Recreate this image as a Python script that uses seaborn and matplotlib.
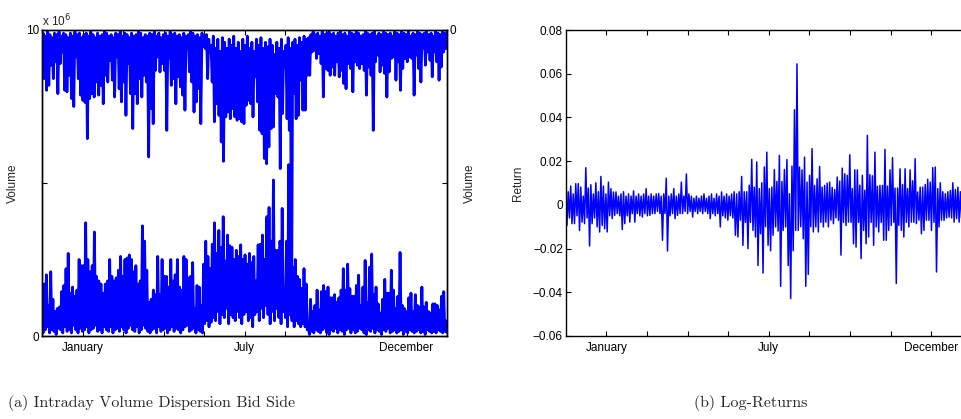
import numpy as np
import matplotlib
matplotlib.use("Agg")
import matplotlib.pyplot as plt
import seaborn as sns

sns.set_style("ticks")
plt.rcParams["font.family"] = ["Liberation Sans", "DejaVu Sans"]
plt.rcParams["axes.unicode_minus"] = True

# ---------------- data ----------------
month_labels = ["January", "", "", "", "July", "", "", "", "December"]
vol_ticklabels_left = ["0", "", "10"]
vol_ticklabels_right = ["0", "", ""]
ret_ticks = [-0.06, -0.04, -0.02, 0.0, 0.02, 0.04, 0.06, 0.08]
ret_ticklabels = ["\u22120.06", "\u22120.04", "\u22120.02", "0", "0.02", "0.04", "0.06", "0.08"]

# bid-side volume dispersion, bottom series (x 1e6): local highs and lows
bid_peaks = [
    0.5, 1.7, 2.0, 1.0, 2.1, 1.2, 0.8, 0.9, 0.95, 1.45,
    1.65, 2.2, 2.7, 1.4, 1.6, 1.3, 1.5, 2.5, 2.3, 2.3,
    3.7, 2.5, 2.1, 2.3, 3.4, 1.95, 1.8, 1.7, 1.4, 1.7,
    1.8, 2.5, 1.95, 1.8, 1.9, 2.15, 2.6, 1.95, 2.5, 2.55,
    2.65, 2.5, 2.1, 2.3, 1.7, 1.8, 3.6, 3.1, 2.15, 1.1,
    1.2, 1.5, 1.35, 2.6, 1.35, 2.5, 1.95, 1.95, 1.6, 2.5,
    1.8, 2.0, 2.5, 1.6, 1.5, 2.6, 2.5, 1.9, 1.95, 2.4,
    0.9, 1.65, 1.6, 1.0, 2.35, 3.1, 2.6, 2.2, 3.0, 3.7,
    2.7, 3.45, 2.9, 3.9, 2.45, 3.3, 2.95, 2.9, 2.5, 2.8,
    2.6, 2.98, 2.5, 2.65, 2.35, 2.7, 2.4, 2.6, 1.8, 2.98,
    3.0, 3.3, 2.5, 3.9, 4.2, 3.1, 5.1, 2.8, 2.8, 3.1,
    4.17, 1.55, 3.1, 5.6, 3.0, 2.25, 2.5, 1.95, 1.85, 1.55,
    2.2, 1.7, 0.3, 1.2, 0.8, 1.0, 1.5, 0.85, 1.45, 1.65,
    1.45, 1.6, 1.25, 1.25, 1.35, 1.1, 1.25, 1.5, 2.2, 1.5,
    2.35, 1.55, 1.3, 1.3, 1.65, 1.99, 1.0, 1.6, 2.47, 1.1,
    2.25, 2.68, 1.35, 1.6, 1.05, 0.75, 1.2, 1.85, 1.4, 1.4,
    2.15, 1.5, 0.9, 1.3, 2.73, 1.0, 0.9, 0.8, 1.25, 1.4,
    0.8, 1.35, 1.0, 0.95, 1.6, 0.95, 1.1, 0.8, 0.75, 1.05,
    1.05, 1.0, 0.85, 1.3, 1.45, 0.5,
]
bid_troughs = [
    0.1, 0.2, 0.3, 0.1, 0.2, 0.15, 0.05, 0.25, 0.2, 0.1,
    0.3, 0.15, 0.2, 0.1, 0.35, 0.2, 0.1, 0.25, 0.15, 0.2,
    0.3, 0.1, 0.2, 0.25, 0.35, 0.15, 0.2, 0.1, 0.3, 0.2,
    0.15, 0.3, 0.1, 0.2, 0.25, 0.15, 0.3, 0.2, 0.1, 0.25,
    0.35, 0.2, 0.15, 0.3, 0.1, 0.2, 0.35, 0.25, 0.15, 0.1,
    0.2, 0.25, 0.1, 0.3, 0.15, 0.2, 0.25, 0.1, 0.2, 0.3,
    0.15, 0.25, 0.2, 0.1, 0.2, 0.3, 0.35, 0.15, 0.2, 0.25,
    0.1, 0.2, 0.15, 0.1, 0.4, 0.5, 0.3, 0.45, 0.6,
    0.5, 0.8, 0.4, 0.7, 0.6, 0.9, 0.4, 0.7, 0.6, 0.5,
    0.8, 0.6, 0.4, 0.7, 0.8, 0.5, 0.6, 0.3, 0.7, 0.8,
    0.5, 0.9, 0.6, 1.0, 0.7, 0.4, 0.8, 0.5, 0.9, 0.6,
    0.4, 0.8, 0.6, 0.3, 0.7, 0.5, 0.3, 0.5, 0.4, 0.3,
    0.4, 0.3, 0.2,
    0.05, 0.15, 0.1, 0.2, 0.15, 0.1, 0.2, 0.25, 0.1, 0.05,
    0.2, 0.15, 0.25, 0.1, 0.2, 0.15, 0.05, 0.2, 0.25, 0.1,
    0.2, 0.1, 0.15, 0.25, 0.2, 0.1, 0.05, 0.2, 0.15, 0.25,
    0.1, 0.2, 0.15, 0.05, 0.2, 0.15, 0.25, 0.1, 0.15, 0.2,
    0.1, 0.15, 0.2, 0.05, 0.15, 0.1, 0.2, 0.15, 0.1, 0.15,
    0.2, 0.1, 0.15, 0.05, 0.2, 0.15, 0.1, 0.15, 0.1, 0.2,
    0.15, 0.1, 0.15, 0.1,
]

# second series on the inverted right axis (x 1e6, measured down from the top)
top_peaks = [
    0.93, 1.59, 1.97, 1.81, 1.15, 1.59, 1.04, 2.08, 1.1, 0.72,
    1.97, 2.02, 1.48, 2.24, 2.5, 0.88, 1.59, 2.13,
    2.3, 2.37, 3.55, 2.24, 2.08, 2.19, 1.7, 2.13, 1.81,
    2.41, 1.48, 1.7, 0.99, 1.64, 2.19, 0.88, 1.92, 2.35, 1.7,
    2.79, 1.1, 2.08, 3.22, 2.08, 2.41, 1.59, 2.19, 1.48, 1.7,
    4.15, 2.57, 3.06, 1.32, 0.88, 1.37, 1.1, 1.32, 3.28, 0.93,
    1.81, 1.59, 2.41, 1.53, 1.86, 2.13, 2.62, 0.61, 1.37, 1.7,
    2.68, 2.35, 1.92, 3.06, 0.55, 0.61, 1.59, 0.72, 1.7, 3.0,
    2.41, 2.79, 3.66, 4.29, 2.84, 2.68, 2.9, 2.57, 2.84, 2.95,
    2.9, 3.0, 3.06, 2.46,
    2.3, 2.41, 2.84, 1.53, 2.35, 3.28, 3.39, 4.2, 4.37, 3.82,
    3.22, 3.17, 2.08, 2.19, 4.53, 2.73, 1.21, 2.9, 3.28, 9.4,
    2.08, 2.9, 2.79, 1.64, 2.62, 2.62, 1.48, 1.48, 0.72, 0.66,
    0.93, 0.77, 1.1, 2.19, 1.26, 1.32, 1.48, 1.21, 1.48, 1.04,
    1.53, 1.32, 1.75, 1.92, 1.1, 1.26, 2.02, 1.04, 1.15, 1.26,
    1.1, 1.32, 2.13, 1.21, 1.48, 3.28, 1.04, 0.82, 1.37, 1.15,
    1.42, 2.19, 1.37, 0.93, 0.88, 1.64, 1.04, 1.97, 1.26, 0.93,
    1.04, 0.88, 0.93, 2.13, 0.82, 1.26, 1.7, 0.61, 1.15, 0.72,
    0.99, 1.53, 0.72, 1.04, 1.64, 1.21, 0.72, 0.61,
]
top_troughs = [
    0.1, 0.2, 0.05, 0.15, 0.25, 0.1, 0.15, 0.05, 0.2, 0.1,
    0.15, 0.25, 0.1, 0.2, 0.05, 0.15, 0.1, 0.25, 0.15, 0.1,
    0.2, 0.05, 0.15, 0.25, 0.1, 0.2, 0.15, 0.05, 0.1, 0.2,
    0.15, 0.25, 0.1, 0.15, 0.05, 0.2, 0.1, 0.15, 0.25, 0.1,
    0.2, 0.15, 0.05, 0.1, 0.25, 0.15, 0.2, 0.1, 0.15, 0.05,
    0.2, 0.1, 0.25, 0.15, 0.1, 0.2, 0.05, 0.15, 0.1, 0.2,
    0.15, 0.25, 0.1, 0.2, 0.15, 0.05, 0.1, 0.2, 0.15, 0.25,
    0.1, 0.2, 0.15,
    0.3, 0.5, 0.2, 0.6, 0.3, 0.7, 0.25, 0.4, 0.6, 0.3,
    0.5, 0.2, 0.6, 0.4, 0.7, 0.3, 0.5, 0.2, 0.6, 0.4,
    0.7, 0.3, 0.5, 0.25, 0.6, 0.4, 0.55, 0.3, 0.5, 0.8,
    0.4, 0.6, 0.3, 0.7, 0.5, 0.25, 0.6, 0.4, 0.3, 0.5,
    0.25, 0.4, 0.2, 0.3, 0.25, 0.15,
    0.05, 0.15, 0.1, 0.2, 0.05, 0.15, 0.1, 0.05, 0.15, 0.1,
    0.2, 0.1, 0.05, 0.15, 0.1, 0.2, 0.05, 0.1, 0.15, 0.05,
    0.1, 0.2, 0.15, 0.05, 0.1, 0.15, 0.1, 0.05, 0.2, 0.1,
    0.15, 0.05, 0.1, 0.15, 0.1, 0.2, 0.05, 0.1, 0.15, 0.05,
    0.1, 0.15, 0.05, 0.2, 0.1, 0.15, 0.05, 0.1, 0.15, 0.1,
    0.05, 0.15, 0.1, 0.2, 0.05, 0.1, 0.15, 0.05, 0.1, 0.05,
]

# log-returns: upward and downward excursions
ret_up = [
    0.005, 0.006, 0.0086, 0.005, 0.0097, 0.0097, 0.0081, 0.004, 0.017, 0.0077,
    0.0092, 0.005, 0.0101, 0.006, 0.013, 0.0086, 0.005, 0.0104, 0.0074, 0.0059,
    0.0059, 0.004, 0.005, 0.006, 0.004, 0.005, 0.004, 0.0064, 0.004, 0.005,
    0.004, 0.005, 0.0074, 0.004, 0.005, 0.004, 0.005, 0.0052, 0.004, 0.005,
    0.0122, 0.004, 0.005, 0.0074, 0.004, 0.005, 0.0104, 0.004, 0.0141, 0.005,
    0.004, 0.003, 0.004, 0.003, 0.004, 0.005, 0.003, 0.004, 0.005, 0.003,
    0.005, 0.004, 0.0059, 0.004, 0.005, 0.004, 0.005, 0.006, 0.005, 0.006,
    0.013, 0.006, 0.006, 0.009, 0.0208, 0.0081, 0.0196, 0.0074, 0.0101, 0.0173,
    0.0241, 0.0074, 0.0081, 0.0162, 0.0107, 0.0226, 0.0107, 0.0162, 0.0207, 0.0051,
    0.0177, 0.0435, 0.0645, 0.0173, 0.016, 0.0218, 0.0104, 0.0135, 0.0257, 0.0089,
    0.0119, 0.0176, 0.0081, 0.0089, 0.0099, 0.0104, 0.008, 0.007, 0.0127, 0.0109,
    0.0168, 0.0142, 0.0135, 0.0229, 0.0074, 0.016, 0.016, 0.009, 0.0135, 0.0067,
    0.0318, 0.0138, 0.0133, 0.0241, 0.0085, 0.0089, 0.0089, 0.0254, 0.0086, 0.016,
    0.0216, 0.0077, 0.0077, 0.0165, 0.0093, 0.0165, 0.0074, 0.016, 0.011, 0.0211,
    0.0059, 0.0081, 0.0081, 0.0093, 0.0117, 0.0104, 0.017, 0.0173, 0.0074, 0.0101,
    0.006, 0.0051, 0.006, 0.0066, 0.0101, 0.007, 0.0081, 0.006, 0.0097, 0.006,
    0.007, 0.005,
]
ret_down = [
    -0.0094, -0.006, -0.0086, -0.0086, -0.005, -0.0117, -0.0079, -0.0086, -0.006, -0.0188,
    -0.0086, -0.006, -0.0101, -0.0124, -0.0094, -0.0109, -0.0124, -0.005, -0.0063, -0.0048,
    -0.004, -0.005, -0.0113, -0.0086, -0.005, -0.0079, -0.004, -0.0079, -0.004, -0.005,
    -0.0056, -0.004, -0.005, -0.0048, -0.004, -0.004, -0.003, -0.004, -0.0162, -0.004,
    -0.0211, -0.005, -0.004, -0.0063, -0.0048, -0.004, -0.004, -0.003, -0.004, -0.003,
    -0.0056, -0.003, -0.004, -0.003, -0.004, -0.003, -0.004, -0.0063, -0.004, -0.005,
    -0.004, -0.0101, -0.005, -0.006, -0.007, -0.005, -0.006, -0.0139, -0.0147, -0.007,
    -0.0185, -0.008, -0.02, -0.008, -0.0117, -0.0147, -0.0277, -0.0132, -0.0312, -0.010,
    -0.0185, -0.021, -0.0139, -0.0101, -0.012, -0.0373, -0.0117, -0.0101, -0.0277, -0.0429,
    -0.021, -0.0117, -0.0117, -0.010, -0.0155, -0.0373, -0.0318, -0.010, -0.0124, -0.0101,
    -0.0124, -0.008, -0.0101, -0.0079, -0.0101, -0.007, -0.0086, -0.006, -0.0071, -0.023,
    -0.008, -0.0094, -0.0079, -0.008, -0.0178, -0.0193, -0.008, -0.0246, -0.0117, -0.0178,
    -0.0147, -0.008, -0.0185, -0.0101, -0.0124, -0.008, -0.0162, -0.0162, -0.0117, -0.0094,
    -0.008, -0.036, -0.0094, -0.0117, -0.0147, -0.008, -0.0101, -0.0079, -0.008, -0.0086,
    -0.007, -0.0132, -0.0117, -0.007, -0.0071, -0.0117, -0.008, -0.0307, -0.0101, -0.007,
    -0.0071, -0.006, -0.0056, -0.006, -0.0079, -0.0063, -0.0079, -0.006, -0.0086, -0.006,
    -0.007, -0.006,
]


def interleave(a, b):
    n = min(len(a), len(b))
    out = np.empty(2 * n)
    out[0::2] = np.asarray(a[:n], dtype=float)
    out[1::2] = np.asarray(b[:n], dtype=float)
    return out


bid_series = interleave(bid_peaks, bid_troughs)
top_series = interleave(top_peaks, top_troughs)
ret_series = interleave(ret_up, ret_down)

# ---------------- figure ----------------
W, H = 961, 419
fig = plt.figure(figsize=(W / 100, H / 100), dpi=100)
ax1 = fig.add_axes([42 / W, (H - 336) / H, 405 / W, 306 / H])
ax2 = ax1.twinx()
ax3 = fig.add_axes([565.7 / W, (H - 336) / H, 406 / W, 306 / H])

blue = "#0000ff"

sns.lineplot(x=np.linspace(0, 10, len(bid_series)), y=bid_series, ax=ax1,
             color=blue, linewidth=2.0, estimator=None, sort=False)
sns.lineplot(x=np.linspace(0, 10, len(top_series)), y=top_series, ax=ax2,
             color=blue, linewidth=2.0, estimator=None, sort=False)
sns.lineplot(x=np.linspace(0, 10, len(ret_series)), y=ret_series, ax=ax3,
             color=blue, linewidth=1.1, estimator=None, sort=False)

tick_fs = 8.5
xt = np.arange(1, 10)

# left panel
ax1.set_xlim(0, 10)
ax1.set_ylim(0, 10)
ax1.set_xticks(xt)
ax1.set_xticklabels(month_labels)
ax1.set_yticks([0, 5, 10])
ax1.set_yticklabels(vol_ticklabels_left)
ax1.tick_params(axis="both", direction="in", length=3.5, width=0.8,
                labelsize=tick_fs, top=True, right=False, colors="black")
ax1.tick_params(axis="x", pad=4)
ax1.tick_params(axis="y", pad=2)
ax1.set_ylabel("Volume", fontsize=tick_fs)
ax1.yaxis.set_label_coords((19 - 42) / 405, 0.5)
ax1.set_xlabel("")
ax1.text(0.0, (336 - 26) / 306, "x 10$^{6}$", transform=ax1.transAxes,
         ha="left", va="baseline", fontsize=tick_fs)

ax2.set_ylim(10, 0)
ax2.set_yticks([0, 5, 10])
ax2.set_yticklabels(vol_ticklabels_right)
ax2.tick_params(axis="y", direction="in", length=3.5, width=0.8,
                labelsize=tick_fs, pad=2, colors="black")
ax2.set_ylabel("Volume", fontsize=tick_fs)
ax2.yaxis.set_label_coords((464 - 42) / 405, 0.5)
ax2.yaxis.label.set_rotation(90)

# right panel
ax3.set_xlim(0, 10)
ax3.set_ylim(-0.06, 0.08)
ax3.set_xticks(xt)
ax3.set_xticklabels(month_labels)
ax3.set_yticks(ret_ticks)
ax3.set_yticklabels(ret_ticklabels)
ax3.tick_params(axis="both", direction="in", length=3.5, width=0.8,
                labelsize=tick_fs, top=True, right=True, colors="black")
ax3.tick_params(axis="x", pad=4)
ax3.tick_params(axis="y", pad=2)
ax3.set_ylabel("Return", fontsize=tick_fs)
ax3.yaxis.set_label_coords((524 - 565.7) / 406, 0.5)
ax3.set_xlabel("")

for ax in (ax1, ax2, ax3):
    for s in ax.spines.values():
        s.set_visible(True)
        s.set_linewidth(1.0)
        s.set_color("black")

fig.text(152 / W, 1 - 403 / H, "(a) Intraday Volume Dispersion Bid Side",
         family="cmr10", fontsize=11.5, ha="center", va="center")
fig.text(751 / W, 1 - 403 / H, "(b) Log-Returns",
         family="cmr10", fontsize=11.5, ha="center", va="center")

fig.savefig("out.png", dpi=100)
